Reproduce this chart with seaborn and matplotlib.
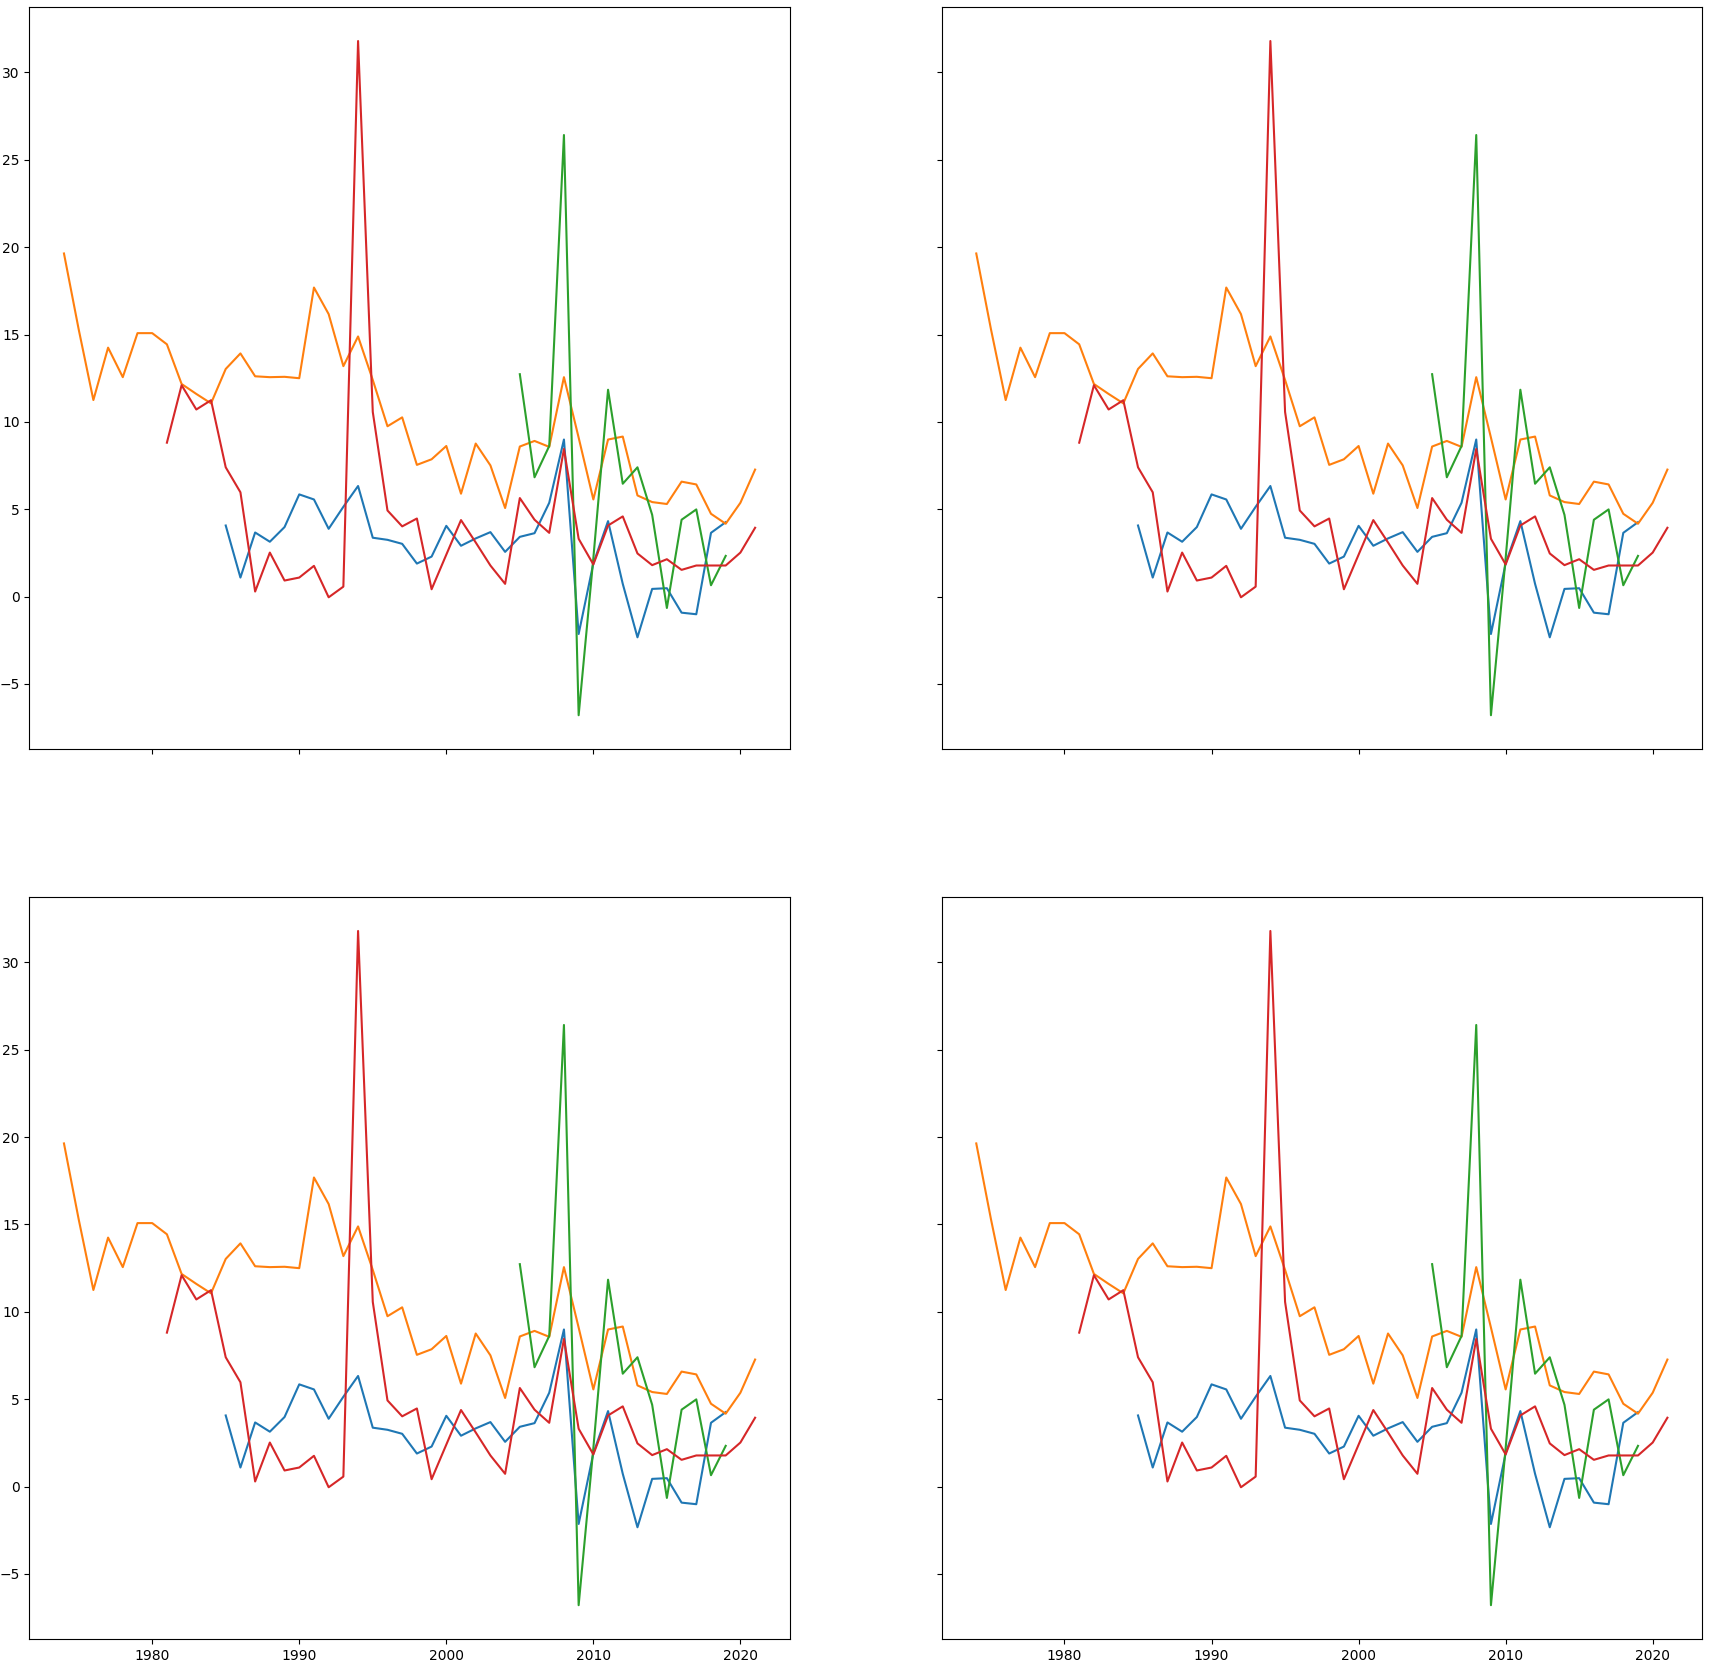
import numpy as np
import seaborn as sns
import matplotlib.pyplot as plt

# Series values (one line per colour)
blue_years = list(range(1985, 2020))
blue_vals = [4.07, 1.09, 3.67, 3.14, 3.98, 5.85, 5.56, 3.88, 5.14, 6.33,
             3.37, 3.25, 3.02, 1.89, 2.29, 4.05, 2.91, 3.33, 3.69, 2.56,
             3.42, 3.63, 5.37, 8.99, -2.14, 1.9, 4.32, 0.73, -2.33, 0.44,
             0.48, -0.92, -1.01, 3.65, 4.26]

orange_years = list(range(1974, 2022))
orange_vals = [19.64, 15.3, 11.25, 14.25, 12.56, 15.08, 15.08, 14.44, 12.17, 11.6,
               11.06, 13.03, 13.92, 12.61, 12.56, 12.58, 12.5, 17.69, 16.17, 13.19,
               14.89, 12.4, 9.75, 10.26, 7.54, 7.86, 8.62, 5.89, 8.76, 7.51,
               5.07, 8.59, 8.91, 8.57, 12.56, 9.1, 5.56, 8.99, 9.16, 5.79,
               5.41, 5.3, 6.58, 6.42, 4.74, 4.17, 5.37, 7.27]

green_years = list(range(2005, 2020))
green_vals = [12.73, 6.83, 8.62, 26.42, -6.79, 2.2, 11.84, 6.46, 7.4, 4.68,
              -0.65, 4.4, 4.99, 0.65, 2.33]

red_years = list(range(1981, 2022))
red_vals = [8.81, 12.1, 10.71, 11.24, 7.4, 5.97, 0.29, 2.52, 0.92, 1.09,
            1.76, -0.04, 0.57, 31.8, 10.57, 4.93, 4.02, 4.47, 0.42, 2.4,
            4.38, 3.1, 1.78, 0.73, 5.64, 4.4, 3.65, 8.45, 3.31, 1.84,
            4.07, 4.59, 2.47, 1.8, 2.14, 1.53, 1.78, 1.78, 1.78, 2.52,
            3.94]

series = [(blue_years, blue_vals, 'tab:blue'),
          (orange_years, orange_vals, 'tab:orange'),
          (green_years, green_vals, 'tab:green'),
          (red_years, red_vals, 'tab:red')]

fig, axes = plt.subplots(2, 2, figsize=(17.1, 16.62), dpi=100, sharex=True, sharey=True)
fig.subplots_adjust(left=0.0172, right=0.9953, top=0.9956, bottom=0.0139,
                    wspace=0.2, hspace=0.2)

# Same four lines in every panel
for ax in axes.flat:
    for yrs, vals, col in series:
        sns.lineplot(x=np.array(yrs), y=np.array(vals), color=col, ax=ax)

fig.savefig('out.png', dpi=100)
